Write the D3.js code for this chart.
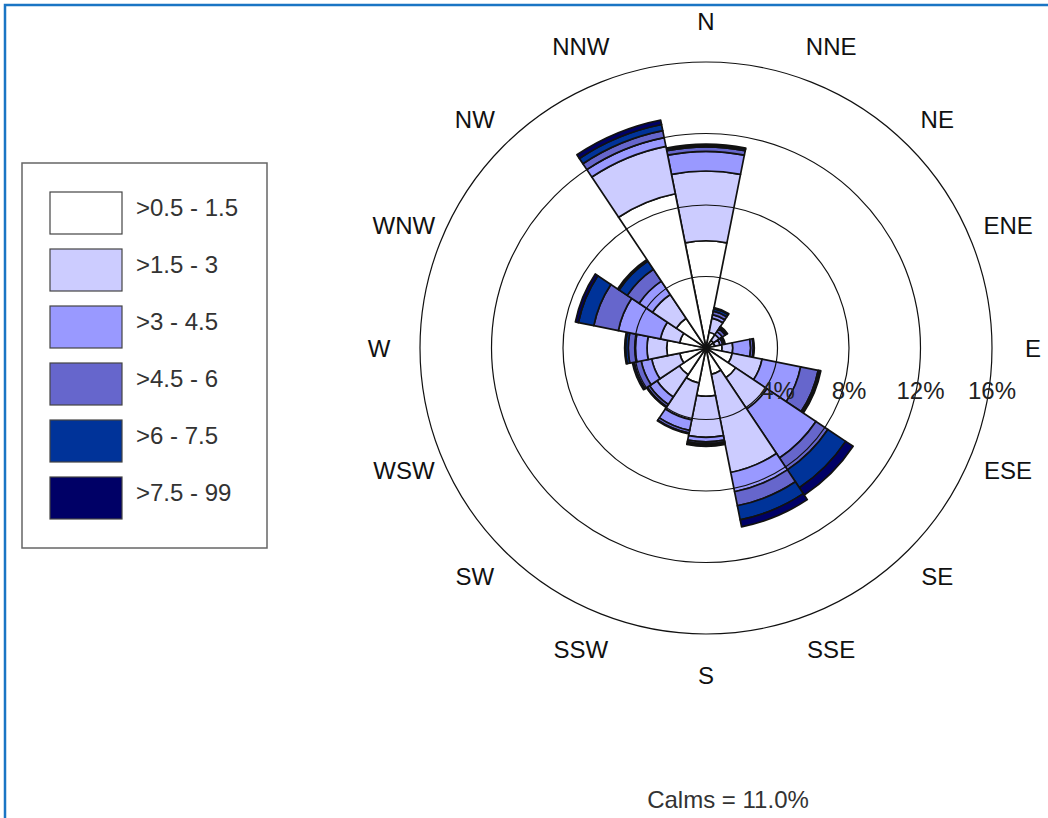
<!DOCTYPE html>
<html>
<head>
<meta charset="utf-8">
<script src="https://cdn.jsdelivr.net/npm/d3@7"></script>
<style>
  body { margin: 0; background: #fff; }
  svg { display: block; font-family: "Liberation Sans", Arial, sans-serif; }
</style>
</head>
<body>
<svg id="chart" width="1048" height="818"></svg>
<script>
// Compass sectors, clockwise from north
const directions = ["N","NNE","NE","ENE","E","ESE","SE","SSE","S","SSW","SW","WSW","W","WNW","NW","NNW"];

// Wind speed classes (m/s) and their fills
const speedClasses = [">0.5 - 1.5", ">1.5 - 3", ">3 - 4.5", ">4.5 - 6", ">6 - 7.5", ">7.5 - 99"];
const classColors = ["#ffffff", "#ccccff", "#9999ff", "#6666cc", "#003399", "#000066"];

// Frequency (%) of each speed class, per direction (N .. NNW)
const spd_05_15 = [6.0, 0.9, 0.5, 0.5, 0.9, 1.5, 2.0, 1.5, 2.7, 2.0, 1.8, 1.5, 2.2, 1.5, 2.0, 8.8];
const spd_15_3  = [3.9, 0.8, 0.4, 0.3, 0.6, 1.7, 2.1, 5.6, 2.3, 2.1, 1.5, 1.6, 1.1, 1.1, 1.6, 2.7];
const spd_3_45  = [1.1, 0.2, 0.2, 0.15, 1.0, 2.2, 3.3, 1.1, 0.25, 0.6, 0.5, 0.6, 0.65, 2.4, 0.9, 0.5];
const spd_45_6  = [0.25, 0.2, 0.2, 0.1, 0.15, 1.0, 0.8, 0.8, 0.1, 0.15, 0.15, 0.4, 0.4, 1.4, 0.8, 0.4];
const spd_6_75  = [0.1, 0.15, 0.1, 0.05, 0.05, 0.1, 1.2, 0.8, 0.1, 0.05, 0.05, 0.1, 0.15, 0.88, 0.55, 0.35];
const spd_75_99 = [0.05, 0.05, 0.05, 0.0, 0.0, 0.05, 0.5, 0.4, 0.05, 0.0, 0.0, 0.0, 0.05, 0.17, 0.1, 0.25];

const ringTicks = [4, 8, 12, 16];
const calmsPct = 11.0;

const classSeries = [spd_05_15, spd_15_3, spd_3_45, spd_45_6, spd_6_75, spd_75_99];

const svg = d3.select("#chart");
const cx = 706, cy = 348;
const r = d3.scaleLinear().domain([0, 16]).range([0, 286]);
const sector = 2 * Math.PI / directions.length;
const angle = d3.scalePoint().domain(directions).range([0, 2 * Math.PI - sector]);
const fontSize = 24;

// page frame
svg.append("rect")
  .attr("x", 5).attr("y", 5).attr("width", 1200).attr("height", 1000)
  .attr("fill", "none").attr("stroke", "#1a75c4").attr("stroke-width", 2.5);

const g = svg.append("g").attr("transform", `translate(${cx},${cy})`);

// stacked petals
const rows = directions.map((d, i) => {
  let acc = 0;
  return classSeries.map((s, k) => {
    const v0 = acc; acc += s[i];
    return { dir: d, k, v0, v1: acc };
  }).filter(p => p.v1 > p.v0);
});

const arc = d3.arc()
  .innerRadius(p => r(p.v0))
  .outerRadius(p => r(p.v1))
  .startAngle(p => angle(p.dir) - sector / 2)
  .endAngle(p => angle(p.dir) + sector / 2);

g.append("g").selectAll("path")
  .data(rows.flat())
  .join("path")
  .attr("d", arc)
  .attr("fill", p => classColors[p.k])
  .attr("stroke", "#111")
  .attr("stroke-width", 1.7)
  .attr("stroke-linejoin", "round");

// grid rings
g.append("g").selectAll("circle")
  .data(ringTicks)
  .join("circle")
  .attr("r", d => r(d))
  .attr("fill", "none")
  .attr("stroke", "#111")
  .attr("stroke-width", 1.2);

// ring labels
g.append("g").selectAll("text")
  .data(ringTicks)
  .join("text")
  .attr("x", d => r(d))
  .attr("y", 51)
  .attr("text-anchor", "middle")
  .attr("font-size", fontSize)
  .attr("fill", "#222")
  .text(d => d + "%");

// direction labels, slightly flattened vertically
const labelR = 327;
g.append("g").selectAll("text")
  .data(directions)
  .join("text")
  .attr("x", d => labelR * Math.sin(angle(d)))
  .attr("y", d => -(labelR - 8 * Math.sin(angle(d)) ** 2) * Math.cos(angle(d)))
  .attr("text-anchor", "middle")
  .attr("dominant-baseline", "central")
  .attr("font-size", fontSize)
  .attr("fill", "#111")
  .text(d => d);

// calms note
svg.append("text")
  .attr("x", 728).attr("y", 808)
  .attr("text-anchor", "middle")
  .attr("font-size", fontSize)
  .attr("fill", "#333")
  .text(`Calms = ${calmsPct.toFixed(1)}%`);

// legend
const legend = svg.append("g");
legend.append("rect")
  .attr("x", 22).attr("y", 163).attr("width", 245).attr("height", 385)
  .attr("fill", "#fff").attr("stroke", "#666").attr("stroke-width", 1.5);
const item = legend.selectAll("g.item")
  .data(speedClasses)
  .join("g").attr("class", "item")
  .attr("transform", (d, i) => `translate(50,${192 + i * 57})`);
item.append("rect")
  .attr("width", 72).attr("height", 42)
  .attr("fill", (d, i) => classColors[i])
  .attr("stroke", "#444").attr("stroke-width", 1.2);
item.append("text")
  .attr("x", 86).attr("y", 24)
  .attr("font-size", fontSize)
  .attr("fill", "#333")
  .text(d => d);
</script>
</body>
</html>
